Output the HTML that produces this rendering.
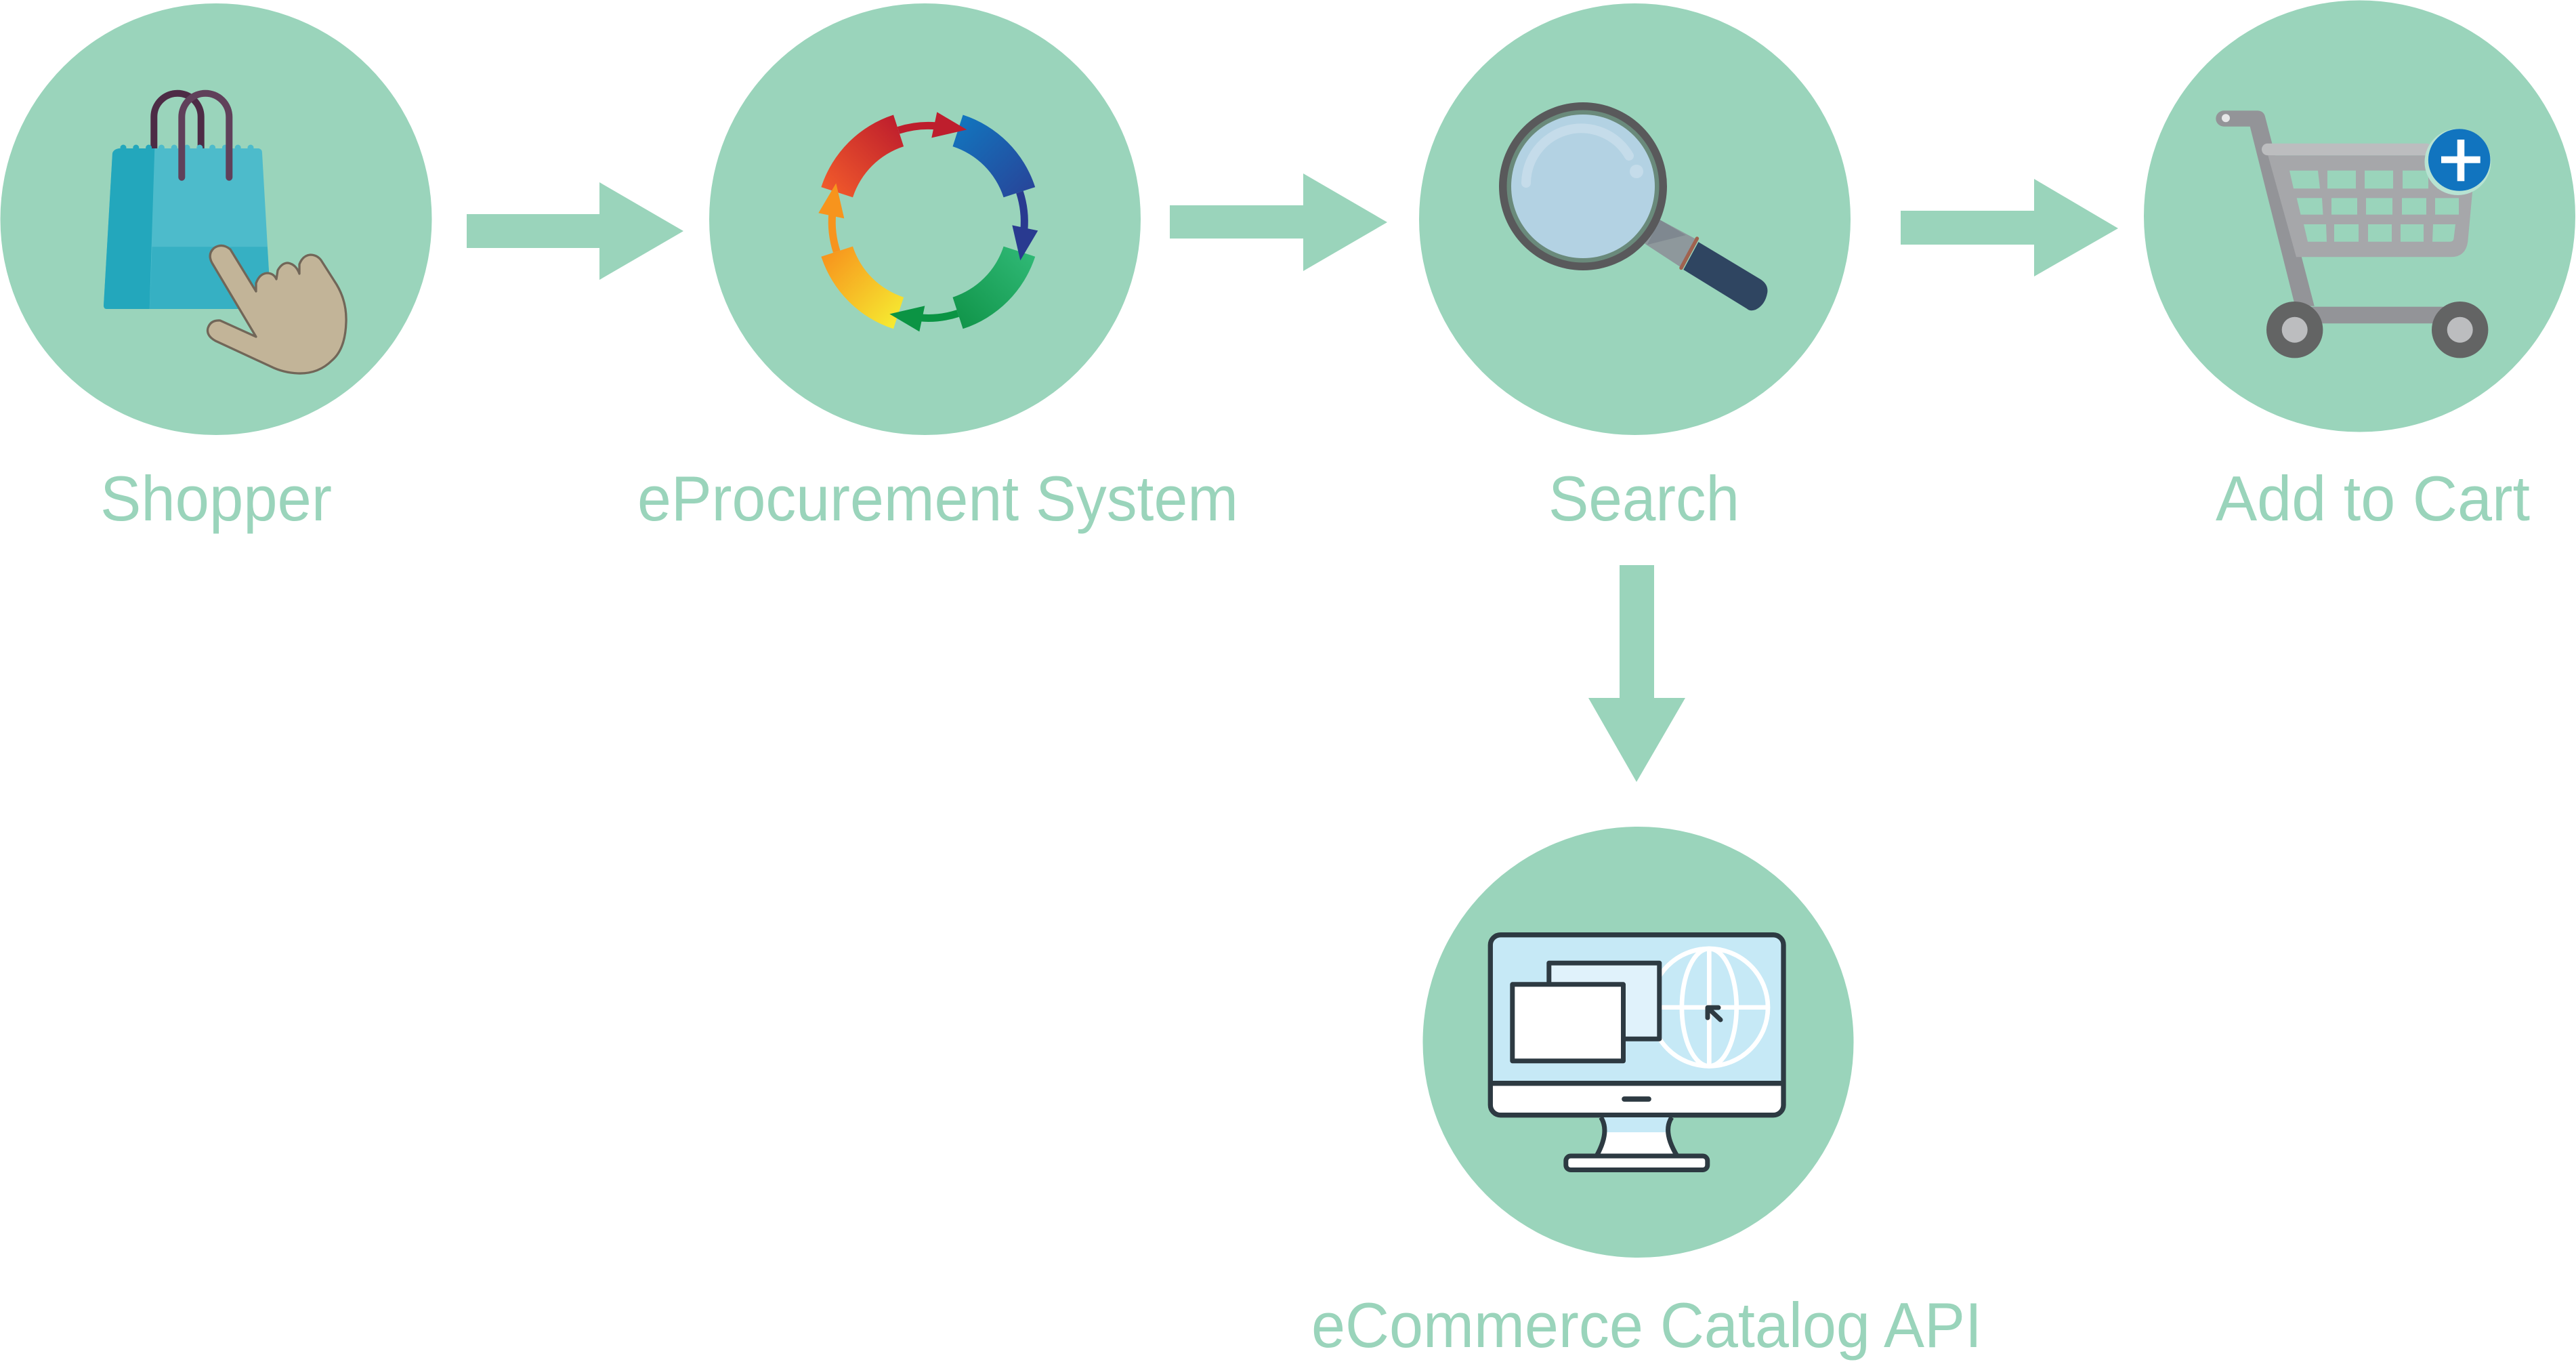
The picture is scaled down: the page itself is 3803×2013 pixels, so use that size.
<!DOCTYPE html>
<html><head><meta charset="utf-8"><style>html,body{margin:0;padding:0;background:#fff;}svg{display:block}</style></head>
<body>
<svg width="3803" height="2013" viewBox="0 0 3803 2013" xmlns="http://www.w3.org/2000/svg">
<defs>
  <linearGradient id="gA" gradientUnits="userSpaceOnUse" x1="-150" y1="-45" x2="-45" y2="-150"><stop offset="0" stop-color="#f15a2b"/><stop offset="1" stop-color="#be1e2d"/></linearGradient>
  <linearGradient id="gB" gradientUnits="userSpaceOnUse" x1="-150" y1="-45" x2="-45" y2="-150"><stop offset="0" stop-color="#1275be"/><stop offset="1" stop-color="#27469a"/></linearGradient>
  <linearGradient id="gC" gradientUnits="userSpaceOnUse" x1="-150" y1="-45" x2="-45" y2="-150"><stop offset="0" stop-color="#2fb875"/><stop offset="1" stop-color="#11954a"/></linearGradient>
  <linearGradient id="gD" gradientUnits="userSpaceOnUse" x1="-150" y1="-45" x2="-45" y2="-150"><stop offset="0" stop-color="#f6eb31"/><stop offset="1" stop-color="#f7941d"/></linearGradient>
  <linearGradient id="neck" gradientUnits="userSpaceOnUse" x1="0" y1="1649" x2="0" y2="1706"><stop offset="0.386" stop-color="#c6e9f6"/><stop offset="0.386" stop-color="#ffffff"/></linearGradient>
</defs>

<!-- circles -->
<g fill="#9ad4bb">
  <circle cx="319" cy="323.5" r="318.5"/>
  <circle cx="1365.5" cy="323.5" r="318.5"/>
  <circle cx="2413.5" cy="323.5" r="318.5"/>
  <circle cx="3483.5" cy="319" r="318.5"/>
  <circle cx="2418.5" cy="1538" r="318"/>
</g>

<!-- arrows -->
<g fill="#9ad4bb">
  <rect x="689" y="316" width="197" height="50"/>
  <polygon points="885,269 1009,341 885,413"/>
  <rect x="1727" y="303" width="198" height="49"/>
  <polygon points="1924,256 2048,328 1924,400"/>
  <rect x="2806" y="311" width="198" height="50"/>
  <polygon points="3003,264 3127,337 3003,408"/>
  <rect x="2391" y="834" width="51" height="197"/>
  <polygon points="2345,1030 2488,1030 2416,1154"/>
</g>

<!-- labels -->
<g font-family="'Liberation Sans', Arial, sans-serif" font-size="94" fill="#9ad4bb">
  <text x="148" y="768" textLength="342" lengthAdjust="spacingAndGlyphs">Shopper</text>
  <text x="941" y="768" textLength="887" lengthAdjust="spacingAndGlyphs">eProcurement System</text>
  <text x="2286" y="768" textLength="282" lengthAdjust="spacingAndGlyphs">Search</text>
  <text x="3271" y="768" textLength="464" lengthAdjust="spacingAndGlyphs">Add to Cart</text>
  <text x="1936" y="1988" textLength="990" lengthAdjust="spacingAndGlyphs">eCommerce Catalog API</text>
</g>

<!-- Shopper icon -->
<g>
  <path d="M227.3,222 L227.3,172.4 A34.7,34.7 0 0 1 296.7,172.4 L296.7,222" fill="none" stroke="#4d2b45" stroke-width="10"/>
  <path d="M176,219 L382,219 Q387,220 387,226 L400,452 Q400,456 396,456 L158,456 Q153,456 153,451 L166,226 Q168,220 176,219 Z" fill="#4dbbcb"/>
  <g fill="#4dbbcb">
    <circle cx="238.4" cy="218" r="4.5"/><circle cx="257.2" cy="218" r="4.5"/><circle cx="276" cy="218" r="4.5"/><circle cx="294.8" cy="218" r="4.5"/><circle cx="313.6" cy="218" r="4.5"/><circle cx="332.4" cy="218" r="4.5"/><circle cx="351.2" cy="218" r="4.5"/><circle cx="370" cy="218" r="4.5"/>
  </g>
  <polygon points="224.5,364.3 394.8,364.3 400,452 396,456 221,456" fill="#36b0c3"/>
  <path d="M176,219 L228.3,219 L220.7,456 L158,456 Q153,456 153,451 L166,226 Q168,220 176,219 Z" fill="#23a7bc"/>
  <g fill="#23a7bc"><circle cx="182" cy="218" r="4.5"/><circle cx="200.8" cy="218" r="4.5"/><circle cx="219.6" cy="218" r="4.5"/></g>
  <path d="M268.3,261.7 L268.3,172.7 A35,35 0 0 1 338.3,172.7 L338.3,261.7" fill="none" stroke="#60405a" stroke-width="10" stroke-linecap="round"/>
  <path d="M378,497 L313,388 Q306,375 316,366 Q328,358 340,368 L378,430 L378,418 Q383,404 394,403 Q404,403 408,412 L410,399 Q416,388 425,388 Q437,390 442,404 L442,390 Q447,377 458,376 Q468,376 474,384 L497,420 Q512,445 511,475 Q510,515 490,532 Q470,552 440,551 Q418,550 400,541 L318,503 Q304,495 307,484 Q311,472 325,473 L378,497 Z" fill="#c2b498" stroke="#716658" stroke-width="3.3" stroke-linejoin="round"/>
</g>

<!-- eProcurement ring -->
<g transform="translate(1370.3,327.4)">
  <path d="M-157.9,-51.3 A166,166 0 0 1 -51.3,-157.9 L-36.2,-111.3 A117,117 0 0 0 -111.3,-36.2 Z" fill="url(#gA)"/>
  <path d="M-157.9,-51.3 A166,166 0 0 1 -51.3,-157.9 L-36.2,-111.3 A117,117 0 0 0 -111.3,-36.2 Z" fill="url(#gB)" transform="rotate(90)"/>
  <path d="M-157.9,-51.3 A166,166 0 0 1 -51.3,-157.9 L-36.2,-111.3 A117,117 0 0 0 -111.3,-36.2 Z" fill="url(#gC)" transform="rotate(180)"/>
  <path d="M-157.9,-51.3 A166,166 0 0 1 -51.3,-157.9 L-36.2,-111.3 A117,117 0 0 0 -111.3,-36.2 Z" fill="url(#gD)" transform="rotate(270)"/>
  <g>
    <path d="M-43.9,-135.1 A142,142 0 0 1 12.4,-141.5" fill="none" stroke="#be1e2d" stroke-width="11"/>
    <polygon points="13,-162 5,-124 57,-136" fill="#be1e2d"/>
  </g>
  <g transform="rotate(90)">
    <path d="M-43.9,-135.1 A142,142 0 0 1 12.4,-141.5" fill="none" stroke="#293a90" stroke-width="11"/>
    <polygon points="13,-162 5,-124 57,-136" fill="#293a90"/>
  </g>
  <g transform="rotate(180)">
    <path d="M-43.9,-135.1 A142,142 0 0 1 12.4,-141.5" fill="none" stroke="#0b9444" stroke-width="11"/>
    <polygon points="13,-162 5,-124 57,-136" fill="#0b9444"/>
  </g>
  <g transform="rotate(270)">
    <path d="M-43.9,-135.1 A142,142 0 0 1 12.4,-141.5" fill="none" stroke="#f7941d" stroke-width="11"/>
    <polygon points="13,-162 5,-124 57,-136" fill="#f7941d"/>
  </g>
</g>

<!-- Search icon -->
<g>
  <polygon points="2449.8,324 2502.1,352 2480.6,393.9 2428.4,359.7" fill="#8e989c"/>
  <polygon points="2449.8,324 2488.7,347 2431.7,361.2" fill="#7f8890"/>
  <path d="M2507.4,357.1 L2599.2,412.2 Q2611,420 2609.2,432 Q2606,450 2592,457 Q2584,460 2579,455.6 L2485.3,398 Z" fill="#2f4561"/>
  <line x1="2505.4" y1="352" x2="2482" y2="395.4" stroke="#a0624f" stroke-width="5.5" stroke-linecap="round"/>
  <circle cx="2337" cy="275" r="124" fill="#59595b"/>
  <circle cx="2337" cy="275" r="112.5" fill="#6a8a7b"/>
  <circle cx="2337" cy="275" r="106" fill="#b3d2e3"/>
  <path d="M2253,270 A81.5,81.5 0 0 1 2405,230" fill="none" stroke="#c5dcea" stroke-width="14" stroke-linecap="round"/>
  <circle cx="2416" cy="253" r="10" fill="#c5dcea"/>
</g>

<!-- Cart icon -->
<g>
  <path d="M3283,163.3 L3333,163.3 Q3342,164 3344,172 L3416.7,451.7 L3388.3,451.7 L3321.7,186.7 L3283,186.7 A11.7,11.7 0 0 1 3283,163.3 Z" fill="#939498"/>
  <circle cx="3286" cy="174.3" r="6" fill="#e6e7e8"/>
  <path d="M3348.3,229.3 L3655,229.3 L3643.3,356.7 Q3640,379.3 3618.3,379.3 L3390,379.3 Z" fill="#a6a7aa"/>
  <rect x="3339" y="211.7" width="252" height="17.6" rx="8.8" fill="#bcbdbf"/>
  <g fill="#9ad4bb">
    <polygon points="3380,251.7 3422,251.7 3425,278.3 3386,278.3"/>
    <rect x="3436" y="251.7" width="42" height="26.6"/>
    <rect x="3491" y="251.7" width="42" height="26.6"/>
    <rect x="3547" y="251.7" width="38" height="26.6"/>
    <rect x="3598" y="251.7" width="40" height="26.6"/>
    <polygon points="3390.7,292.3 3428,292.3 3429.5,316.7 3396.5,316.7"/>
    <rect x="3442" y="292.3" width="38" height="24.4"/>
    <rect x="3493" y="292.3" width="39" height="24.4"/>
    <rect x="3546" y="292.3" width="36" height="24.4"/>
    <rect x="3595" y="292.3" width="35" height="24.4"/>
    <polygon points="3401,331 3434,331 3435,356.7 3407,356.7"/>
    <rect x="3446" y="331" width="36" height="25.7"/>
    <rect x="3496" y="331" width="35" height="25.7"/>
    <rect x="3544" y="331" width="34" height="25.7"/>
    <path d="M3592,331 L3625,331 L3622.5,352 Q3622,356.7 3617,356.7 L3591,356.7 Z"/>
  </g>
  <rect x="3408" y="452.7" width="206" height="24.6" fill="#939498"/>
  <circle cx="3387.7" cy="486.7" r="41.7" fill="#636464"/>
  <circle cx="3387.7" cy="486.7" r="19" fill="#bcbdbf"/>
  <circle cx="3631.7" cy="486.7" r="41.7" fill="#636464"/>
  <circle cx="3631.7" cy="486.7" r="19" fill="#bcbdbf"/>
  <circle cx="3628.5" cy="239" r="49" fill="#b8e3d2"/>
  <circle cx="3630.7" cy="236" r="45.8" fill="#1174bf"/>
  <rect x="3604" y="230.7" width="57.7" height="10" fill="#fff"/>
  <rect x="3627.7" y="206" width="10.6" height="61.3" fill="#fff"/>
</g>

<!-- Monitor icon -->
<g>
  <rect x="2200.3" y="1379.7" width="432.7" height="266" rx="15" fill="#c6e9f6"/>
  <path d="M2200.3,1598.8 L2633,1598.8 L2633,1630.7 Q2633,1645.7 2618,1645.7 L2215.3,1645.7 Q2200.3,1645.7 2200.3,1630.7 Z" fill="#fff"/>
  <g fill="none" stroke="#fff" stroke-width="6.7">
    <circle cx="2523.3" cy="1486.7" r="86.7"/>
    <ellipse cx="2523.3" cy="1486.7" rx="40.4" ry="86.7"/>
    <line x1="2436.6" y1="1486.7" x2="2610" y2="1486.7"/>
    <line x1="2523.3" y1="1400" x2="2523.3" y2="1573.4"/>
  </g>
  <g stroke="#2d3a42" stroke-width="7" stroke-linejoin="round">
    <rect x="2286.8" y="1421.2" width="163" height="112" fill="#e0f2fb"/>
    <rect x="2232.8" y="1452.8" width="163.7" height="113" fill="#fff"/>
  </g>
  <path d="M2537,1487 L2521,1487 L2521,1502 M2522,1488 L2540,1505" fill="none" stroke="#2d3a42" stroke-width="7" stroke-linecap="round" stroke-linejoin="round"/>
  <rect x="2200.3" y="1379.7" width="432.7" height="266" rx="15" fill="none" stroke="#2d3a42" stroke-width="7.3"/>
  <line x1="2200.3" y1="1598.8" x2="2633" y2="1598.8" stroke="#2d3a42" stroke-width="7.5"/>
  <line x1="2398" y1="1622" x2="2434" y2="1622" stroke="#2d3a42" stroke-width="7.7" stroke-linecap="round"/>
  <path d="M2363.5,1649 Q2377,1670 2357,1706 L2476,1706 Q2454,1670 2468,1649 Z" fill="url(#neck)"/>
  <path d="M2363.5,1649 Q2377,1670 2357,1706 M2468,1649 Q2454,1670 2476,1706" fill="none" stroke="#2d3a42" stroke-width="7"/>
  <rect x="2311.8" y="1706" width="209" height="20.5" rx="7" fill="#fff" stroke="#2d3a42" stroke-width="7"/>
</g>
</svg>
</body></html>
